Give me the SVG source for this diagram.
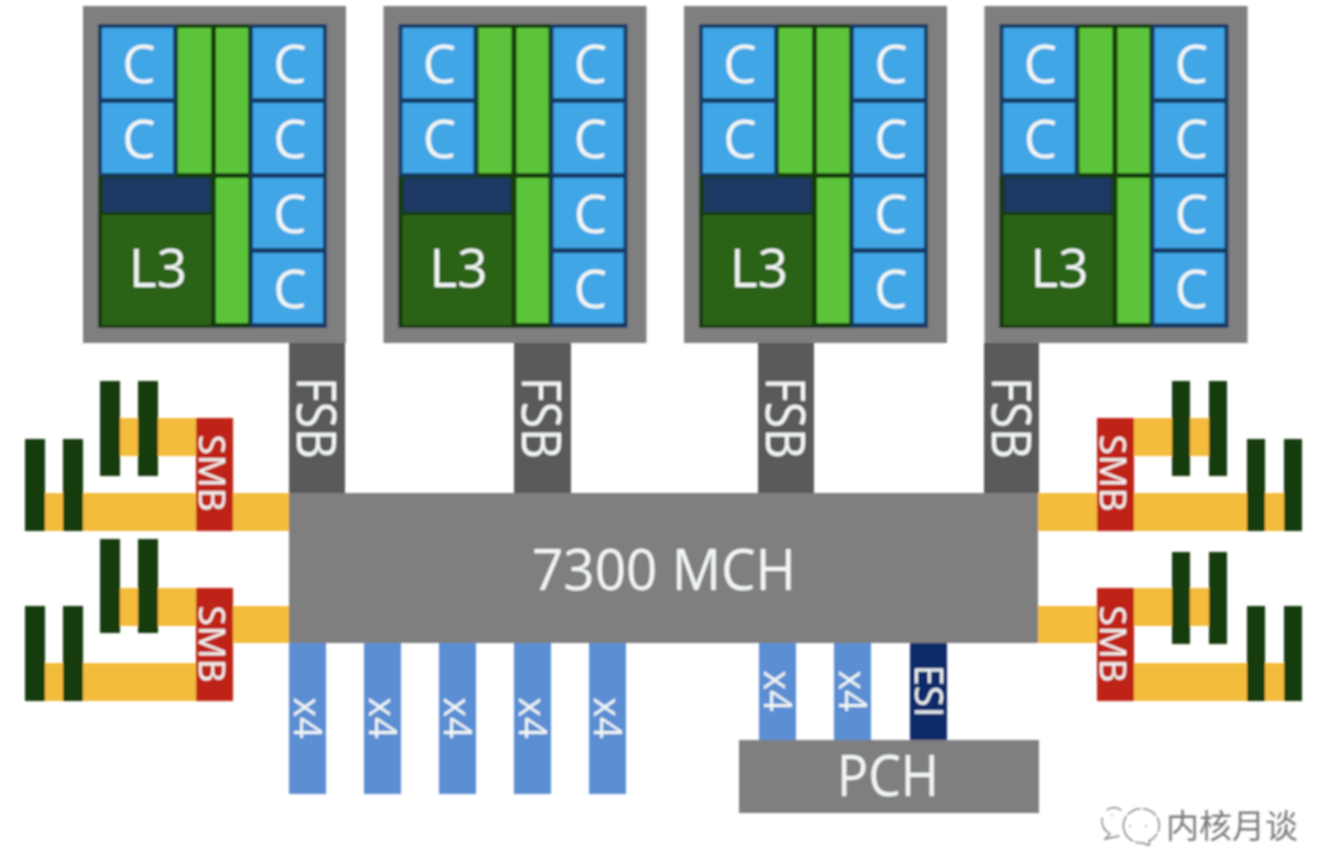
<svg xmlns="http://www.w3.org/2000/svg" width="1324" height="854" viewBox="0 0 1324 854">
<style>
text{font-family:"Open Sans","Noto Sans","Liberation Sans",sans-serif;fill:#f2f7f5;text-anchor:middle}
.gray{fill:#7f7f7f}.fsb{fill:#5a5a5c}.navy{fill:#153a66}.dk{fill:#123a0c}.cell{fill:#41a6e6}.grn{fill:#5cc43a}.blk{fill:#1f3864}.l3{fill:#2b6315}
.yel{fill:#f4bc3c}.red{fill:#bf2018}.bar{fill:#123a0a}.pcie{fill:#5b8ed3}.esi{fill:#0a2a6b}
.c{font-size:53px}.big{font-size:56px}.lbl{font-size:54px}.smb{font-size:37px}.sm{font-size:38px}
.wm{font-family:"Noto Sans CJK SC","Noto Sans",sans-serif;font-size:33px;fill:#7a7a7a;text-anchor:start}
.ic{fill:none;stroke:#808080;stroke-width:1.4;stroke-linecap:round}
</style>
<defs><filter id="soft" x="-2%" y="-2%" width="104%" height="104%"><feGaussianBlur stdDeviation="0.8"/></filter></defs>
<rect width="1324" height="854" fill="#fff"/>
<g filter="url(#soft)">
<g id="connectors">
<rect class="fsb" x="289" y="343" width="56" height="150"/>
<rect class="fsb" x="514" y="343" width="57" height="150"/>
<rect class="fsb" x="758" y="343" width="56" height="150"/>
<rect class="fsb" x="984" y="343" width="55" height="150"/>
<rect class="yel" x="45" y="493" width="244" height="38"/>
<rect class="yel" x="120" y="418" width="76" height="38"/>
<rect class="yel" x="233" y="606" width="56" height="37"/>
<rect class="yel" x="120" y="588" width="76" height="38"/>
<rect class="yel" x="45" y="663" width="151" height="38"/>
<rect class="yel" x="1038" y="493" width="246" height="38"/>
<rect class="yel" x="1134" y="418" width="75" height="38"/>
<rect class="yel" x="1038" y="606" width="59" height="37"/>
<rect class="yel" x="1134" y="588" width="75" height="38"/>
<rect class="yel" x="1134" y="663" width="150" height="38"/>
<g id="x4-links">
<rect class="pcie" x="289" y="643" width="37" height="151"/>
<rect class="pcie" x="364" y="643" width="37" height="151"/>
<rect class="pcie" x="439" y="643" width="37" height="151"/>
<rect class="pcie" x="514" y="643" width="37" height="151"/>
<rect class="pcie" x="589" y="643" width="37" height="151"/>
<rect class="pcie" x="759" y="643" width="37" height="97"/>
<rect class="pcie" x="834" y="643" width="37" height="97"/>
<rect class="esi" x="910" y="643" width="37" height="97"/>
</g>
</g>
<g id="cpu-1">
<rect class="gray" x="83" y="6" width="263" height="337"/>
<rect class="navy" x="98" y="24" width="229" height="304"/>
<path class="dk" d="M176 24H250V176H250V328H98V176H176Z"/>
<rect class="cell" x="102" y="28" width="71" height="70"/><rect class="cell" x="102" y="103" width="71" height="70"/>
<rect class="cell" x="253" y="28" width="70" height="70"/><rect class="cell" x="253" y="103" width="70" height="70"/>
<rect class="cell" x="253" y="178" width="70" height="70"/><rect class="cell" x="253" y="253" width="70" height="70"/>
<rect class="grn" x="178" y="28" width="33" height="145"/><rect class="grn" x="216" y="28" width="32" height="145"/><rect class="grn" x="216" y="178" width="32" height="145"/>
<rect class="blk" x="103" y="178" width="107" height="34"/><rect class="l3" x="102" y="215" width="109" height="110"/>
<text class="c" x="139" y="83">C</text><text class="c" x="139" y="158">C</text>
<text class="c" x="290" y="83">C</text><text class="c" x="290" y="158">C</text><text class="c" x="290" y="233">C</text><text class="c" x="290" y="308">C</text>
<text class="c" x="158" y="287">L3</text>
</g>
<g id="cpu-2" transform="translate(300.5 0)">
<rect class="gray" x="83" y="6" width="263" height="337"/>
<rect class="navy" x="98" y="24" width="229" height="304"/>
<path class="dk" d="M176 24H250V176H250V328H98V176H176Z"/>
<rect class="cell" x="102" y="28" width="71" height="70"/><rect class="cell" x="102" y="103" width="71" height="70"/>
<rect class="cell" x="253" y="28" width="70" height="70"/><rect class="cell" x="253" y="103" width="70" height="70"/>
<rect class="cell" x="253" y="178" width="70" height="70"/><rect class="cell" x="253" y="253" width="70" height="70"/>
<rect class="grn" x="178" y="28" width="33" height="145"/><rect class="grn" x="216" y="28" width="32" height="145"/><rect class="grn" x="216" y="178" width="32" height="145"/>
<rect class="blk" x="103" y="178" width="107" height="34"/><rect class="l3" x="102" y="215" width="109" height="110"/>
<text class="c" x="139" y="83">C</text><text class="c" x="139" y="158">C</text>
<text class="c" x="290" y="83">C</text><text class="c" x="290" y="158">C</text><text class="c" x="290" y="233">C</text><text class="c" x="290" y="308">C</text>
<text class="c" x="158" y="287">L3</text>
</g>
<g id="cpu-3" transform="translate(601 0)">
<rect class="gray" x="83" y="6" width="263" height="337"/>
<rect class="navy" x="98" y="24" width="229" height="304"/>
<path class="dk" d="M176 24H250V176H250V328H98V176H176Z"/>
<rect class="cell" x="102" y="28" width="71" height="70"/><rect class="cell" x="102" y="103" width="71" height="70"/>
<rect class="cell" x="253" y="28" width="70" height="70"/><rect class="cell" x="253" y="103" width="70" height="70"/>
<rect class="cell" x="253" y="178" width="70" height="70"/><rect class="cell" x="253" y="253" width="70" height="70"/>
<rect class="grn" x="178" y="28" width="33" height="145"/><rect class="grn" x="216" y="28" width="32" height="145"/><rect class="grn" x="216" y="178" width="32" height="145"/>
<rect class="blk" x="103" y="178" width="107" height="34"/><rect class="l3" x="102" y="215" width="109" height="110"/>
<text class="c" x="139" y="83">C</text><text class="c" x="139" y="158">C</text>
<text class="c" x="290" y="83">C</text><text class="c" x="290" y="158">C</text><text class="c" x="290" y="233">C</text><text class="c" x="290" y="308">C</text>
<text class="c" x="158" y="287">L3</text>
</g>
<g id="cpu-4" transform="translate(901.5 0)">
<rect class="gray" x="83" y="6" width="263" height="337"/>
<rect class="navy" x="98" y="24" width="229" height="304"/>
<path class="dk" d="M176 24H250V176H250V328H98V176H176Z"/>
<rect class="cell" x="102" y="28" width="71" height="70"/><rect class="cell" x="102" y="103" width="71" height="70"/>
<rect class="cell" x="253" y="28" width="70" height="70"/><rect class="cell" x="253" y="103" width="70" height="70"/>
<rect class="cell" x="253" y="178" width="70" height="70"/><rect class="cell" x="253" y="253" width="70" height="70"/>
<rect class="grn" x="178" y="28" width="33" height="145"/><rect class="grn" x="216" y="28" width="32" height="145"/><rect class="grn" x="216" y="178" width="32" height="145"/>
<rect class="blk" x="103" y="178" width="107" height="34"/><rect class="l3" x="102" y="215" width="109" height="110"/>
<text class="c" x="139" y="83">C</text><text class="c" x="139" y="158">C</text>
<text class="c" x="290" y="83">C</text><text class="c" x="290" y="158">C</text><text class="c" x="290" y="233">C</text><text class="c" x="290" y="308">C</text>
<text class="c" x="158" y="287">L3</text>
</g>
<g id="fsb-labels">
<text class="lbl" transform="translate(316 418) rotate(90)" y="19" textLength="82" lengthAdjust="spacingAndGlyphs">FSB</text>
<text class="lbl" transform="translate(541 418) rotate(90)" y="19" textLength="82" lengthAdjust="spacingAndGlyphs">FSB</text>
<text class="lbl" transform="translate(785 418) rotate(90)" y="19" textLength="82" lengthAdjust="spacingAndGlyphs">FSB</text>
<text class="lbl" transform="translate(1011 418) rotate(90)" y="19" textLength="82" lengthAdjust="spacingAndGlyphs">FSB</text>
</g>
<g id="mch"><rect class="gray" x="289" y="493" width="749" height="150"/><text class="big" x="664" y="590" textLength="264" lengthAdjust="spacingAndGlyphs">7300 MCH</text></g>
<g id="pch"><rect class="gray" x="739" y="740" width="300" height="73"/><text class="big" x="888" y="796" textLength="102" lengthAdjust="spacingAndGlyphs">PCH</text></g>
<g id="smb-1"><rect class="red" x="196" y="418" width="37" height="113"/><text class="smb" transform="translate(212 473) rotate(90)" y="13" textLength="77" lengthAdjust="spacingAndGlyphs">SMB</text></g>
<g id="smb-2"><rect class="red" x="196" y="588" width="37" height="113"/><text class="smb" transform="translate(212 644) rotate(90)" y="13" textLength="77" lengthAdjust="spacingAndGlyphs">SMB</text></g>
<g id="smb-3"><rect class="red" x="1097" y="418" width="37" height="113"/><text class="smb" transform="translate(1113 473) rotate(90)" y="13" textLength="77" lengthAdjust="spacingAndGlyphs">SMB</text></g>
<g id="smb-4"><rect class="red" x="1097" y="588" width="37" height="113"/><text class="smb" transform="translate(1113 644) rotate(90)" y="13" textLength="77" lengthAdjust="spacingAndGlyphs">SMB</text></g>
<g id="dimms">
<rect class="bar" x="25" y="439" width="20" height="92"/><rect class="bar" x="63" y="439" width="20" height="92"/>
<rect class="bar" x="100" y="381" width="20" height="95"/><rect class="bar" x="138" y="381" width="20" height="95"/>
<rect class="bar" x="25" y="606" width="20" height="95"/><rect class="bar" x="63" y="606" width="20" height="95"/>
<rect class="bar" x="100" y="539" width="20" height="94"/><rect class="bar" x="138" y="539" width="20" height="94"/>
<rect class="bar" x="1172" y="381" width="18" height="95"/><rect class="bar" x="1209" y="381" width="18" height="95"/>
<rect class="bar" x="1247" y="439" width="18" height="92"/><rect class="bar" x="1284" y="439" width="18" height="92"/>
<rect class="bar" x="1172" y="552" width="18" height="92"/><rect class="bar" x="1209" y="552" width="18" height="92"/>
<rect class="bar" x="1247" y="606" width="18" height="95"/><rect class="bar" x="1284" y="606" width="18" height="95"/>
</g>
<g id="link-labels">
<text class="sm" transform="translate(307 718) rotate(90)" y="13">x4</text>
<text class="sm" transform="translate(382 718) rotate(90)" y="13">x4</text>
<text class="sm" transform="translate(457 718) rotate(90)" y="13">x4</text>
<text class="sm" transform="translate(532 718) rotate(90)" y="13">x4</text>
<text class="sm" transform="translate(607 718) rotate(90)" y="13">x4</text>
<text class="sm" transform="translate(777 691) rotate(90)" y="13">x4</text>
<text class="sm" transform="translate(852 691) rotate(90)" y="13">x4</text>
<text class="sm" transform="translate(928 691) rotate(90)" y="13">ESI</text>
</g>
<g id="watermark">
<path class="ic" d="M1124 830a18 17 0 1 1 25 11l1 5-7-3a18 17 0 0 1-19-13Z" stroke-dasharray="14 3"/>
<path class="ic" d="M1121 810a11 11 0 0 0-14 0M1102 818c-1 8 3 13 8 16l-5 5 14-3"/>
<path class="ic" d="M1130 826v.5M1146 826v.5M1112 815v.5"/>
<text class="wm" x="1166" y="838">内核月谈</text>
</g>
</g>
</svg>
